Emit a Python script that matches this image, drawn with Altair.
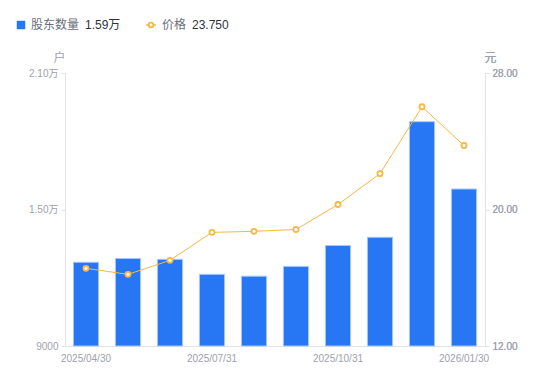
import altair as alt
import pandas as pd

dates = ["2025/04/30", "2025/05/30", "2025/06/30", "2025/07/31", "2025/08/29",
         "2025/09/30", "2025/10/31", "2025/11/28", "2025/12/31", "2026/01/30"]
holders = [12680, 12850, 12810, 12150, 12070, 12500, 13420, 13780, 18860, 15900]
price = [16.55, 16.20, 17.02, 18.66, 18.72, 18.83, 20.29, 22.10, 26.02, 23.75]

shown_dates = [dates[0], dates[3], dates[6], dates[9]]
left_ticks = [9000, 15000, 21000]
right_ticks = [12, 20, 28]

df = pd.DataFrame({"date": dates, "holders": holders, "price": price})

FONT = "Liberation Sans, Noto Sans CJK SC, sans-serif"
LABEL = "#9ea1ad"
AXIS_LINE = "#e3e3e8"
BLUE = "#2776F3"
ORANGE = "#F7B840"

x = alt.X("date:O", sort=dates, title=None,
          scale=alt.Scale(paddingInner=0.4, paddingOuter=0.2),
          axis=alt.Axis(values=shown_dates, labelAngle=0, ticks=False,
                        domainColor=AXIS_LINE, labelColor=LABEL, labelFont=FONT,
                        labelFontSize=10, labelPadding=7, labelOverlap=False))

bars = alt.Chart(df).mark_bar(color=BLUE, stroke="#a9c8fb", strokeWidth=1).encode(
    x=x,
    y=alt.Y("holders:Q", scale=alt.Scale(domain=[left_ticks[0], left_ticks[-1]], nice=False, zero=False),
            axis=alt.Axis(orient="left", values=left_ticks, grid=False,
                          labelExpr="datum.value >= 10000 ? format(datum.value/10000, '.2f') + '万' : format(datum.value, 'd')",
                          domainColor=AXIS_LINE, tickColor=AXIS_LINE, tickSize=4,
                          labelColor=LABEL, labelFont=FONT, labelFontSize=10, labelPadding=3,
                          title="户", titleAngle=0, titleX=-6, titleY=-9, titleAlign="center",
                          titleBaseline="bottom", titleColor=LABEL, titleFont=FONT,
                          titleFontSize=12, titleFontWeight="normal")),
    y2=alt.Y2(datum=left_ticks[0]),
)

yr = alt.Y("price:Q", scale=alt.Scale(domain=[right_ticks[0], right_ticks[-1]], nice=False, zero=False),
           axis=alt.Axis(orient="right", values=right_ticks, grid=False, format=".2f",
                         domainColor=AXIS_LINE, tickColor=AXIS_LINE, tickSize=4,
                         labelColor=LABEL, labelFont=FONT, labelFontSize=10, labelPadding=3,
                         title="元", titleAngle=0, titleX=5, titleY=-9, titleAlign="center",
                         titleBaseline="bottom", titleColor=LABEL, titleFont=FONT,
                         titleFontSize=12, titleFontWeight="normal"))

line = alt.Chart(df).mark_line(color=ORANGE, strokeWidth=1).encode(x=x, y=yr)
pts = alt.Chart(df).mark_point(filled=True, fill="white", stroke=ORANGE, strokeWidth=1.8,
                               size=26, opacity=1).encode(x=x, y=yr)

one = alt.Data(values=[{"a": 1}])
hl = f"{holders[-1] / 10000:.2f}万"
pl = f"{price[-1]:.3f}"

LY = -48
leg_sq = alt.Chart(one).mark_square(color=BLUE, size=72, opacity=1).encode(
    x=alt.value(-44), y=alt.value(LY))
leg_t1 = alt.Chart(one).mark_text(text="股东数量", align="left", baseline="middle",
                                  font=FONT, fontSize=12, color="#6b6e7a").encode(
    x=alt.value(-34), y=alt.value(LY))
leg_v1 = alt.Chart(one).mark_text(text=hl, align="left", baseline="middle",
                                  font=FONT, fontSize=12, color="#2f3340").encode(
    x=alt.value(20), y=alt.value(LY))
leg_ln = alt.Chart(one).mark_rule(color=ORANGE, strokeWidth=1.5).encode(
    x=alt.value(81), x2=alt.value(91), y=alt.value(LY))
leg_pt = alt.Chart(one).mark_point(filled=True, fill="white", stroke=ORANGE, strokeWidth=1.8,
                                   size=22, opacity=1).encode(x=alt.value(86), y=alt.value(LY))
leg_t2 = alt.Chart(one).mark_text(text="价格", align="left", baseline="middle",
                                  font=FONT, fontSize=12, color="#6b6e7a").encode(
    x=alt.value(97), y=alt.value(LY))
leg_v2 = alt.Chart(one).mark_text(text=pl, align="left", baseline="middle",
                                  font=FONT, fontSize=12, color="#2f3340").encode(
    x=alt.value(127), y=alt.value(LY))

chart = alt.layer(bars, line, pts, leg_sq, leg_t1, leg_v1, leg_ln, leg_pt, leg_t2, leg_v2).resolve_scale(
    y="independent"
).properties(
    width=420, height=273,
    autosize=alt.AutoSizeParams(type="none"),
    padding={"left": 57, "top": 65, "right": 57, "bottom": 27},
).configure_view(stroke=None)

chart.save("out.html", embed_options={"renderer": "svg", "actions": False})
